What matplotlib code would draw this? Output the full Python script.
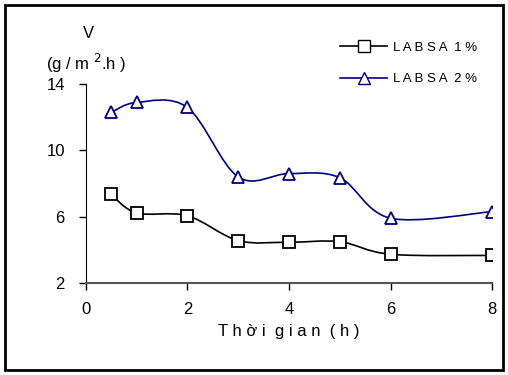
#LABSA release rate vs time

import numpy as np
import matplotlib.pyplot as plt
from matplotlib.path import Path
from matplotlib.patches import PathPatch, Rectangle

time = [0.5, 1, 2, 3, 4, 5, 6, 8]
labsa1 = [7.35, 6.22, 6.05, 4.55, 4.45, 4.48, 3.72, 3.65]
labsa2 = [12.3, 12.9, 12.6, 8.4, 8.6, 8.35, 5.9, 6.3]

plt.rcParams['font.family'] = ['Liberation Sans', 'DejaVu Sans']
fs = 12


def smooth_path(x, y):
    # excel-like smoothed line: bezier through the points
    x = np.asarray(x, float)
    y = np.asarray(y, float)
    n = len(x)
    verts = [(x[0], y[0])]
    codes = [Path.MOVETO]
    for i in range(n - 1):
        i0 = max(i - 1, 0)
        i3 = min(i + 2, n - 1)
        c1 = (x[i] + (x[i + 1] - x[i0]) / 6, y[i] + (y[i + 1] - y[i0]) / 6)
        c2 = (x[i + 1] - (x[i3] - x[i]) / 6, y[i + 1] - (y[i3] - y[i]) / 6)
        verts += [c1, c2, (x[i + 1], y[i + 1])]
        codes += [Path.CURVE4] * 3
    return Path(verts, codes)


fig = plt.figure(figsize=(5.08, 3.75), dpi=100)
ax = fig.add_axes([0.1687, 0.2461, 0.969 - 0.1687, 0.7752 - 0.2461])

for yv, col, mk in [(labsa1, 'black', 's'), (labsa2, '#000080', '^')]:
    ax.add_patch(PathPatch(smooth_path(time, yv), fill=False, ec=col, lw=1.2))
    ax.plot(time, yv, ls='none', marker=mk, ms=9, mfc='white', mec=col, mew=1.3, zorder=3)

# legend drawn by hand-made handles
h1, = ax.plot([], [], color='black', lw=1.2, marker='s', ms=8, mfc='white', mec='black')
h2, = ax.plot([], [], color='#000080', lw=1.2, marker='^', ms=8, mfc='white', mec='#000080')
ax.legend([h1, h2], ['L A B S A  1 %', 'L A B S A  2 %'], frameon=False, fontsize=9.5,
          loc='center left', bbox_to_anchor=(0.625, 1.105), handlelength=3.6,
          handletextpad=0.4, labelspacing=1.45, borderpad=0, borderaxespad=0)

ax.set_xlim(0, 8)
ax.set_ylim(2, 14)
ax.set_xticks([0, 2, 4, 6, 8])
ax.set_yticks([2, 6, 10, 14])
ax.tick_params(direction='out', length=5, width=1, labelsize=fs)
ax.tick_params(axis='y', pad=10)
ax.tick_params(axis='x', pad=9)
ax.spines['top'].set_visible(False)
ax.spines['right'].set_visible(False)
ax.spines['bottom'].set_color('#555555')
ax.spines['bottom'].set_linewidth(1.5)
ax.set_xlabel('T h ờ i  g i a n  ( h )', fontsize=fs, labelpad=5)

fig.text(88 / 508, 1 - 33 / 375, 'V', fontsize=fs, ha='center', va='center')
fig.text(86 / 508, 1 - 63 / 375, '(g / m $^{2}$.h )', fontsize=fs, ha='center', va='center')

fig.patches.append(Rectangle((5 / 508, 5 / 375), 498 / 508, 365 / 375, transform=fig.transFigure,
                             fill=False, ec='black', lw=2))

fig.savefig('out.png', dpi=100)
